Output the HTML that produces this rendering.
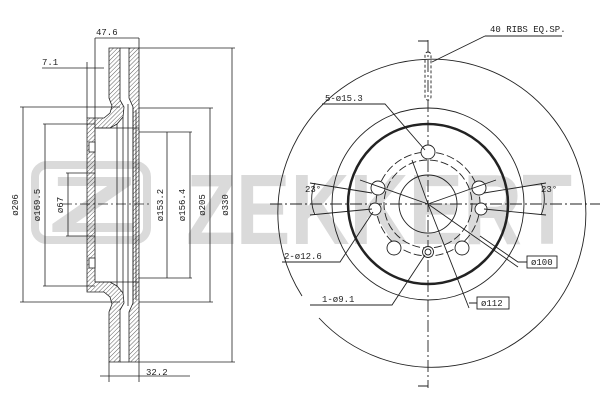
<!DOCTYPE html>
<html><head><style>body{margin:0;background:#fff}svg{display:block}text{font-family:"Liberation Mono",monospace;font-size:9px;fill:#222}</style></head><body>
<svg width="600" height="400" viewBox="0 0 600 400" xmlns="http://www.w3.org/2000/svg">
<defs><pattern id="h" width="3" height="3" patternUnits="userSpaceOnUse" patternTransform="rotate(45)"><line x1="0" y1="0" x2="0" y2="3" stroke="#333" stroke-width="0.8"/></pattern></defs>
<!-- watermark -->
<g fill="#dadada">
<rect x="35" y="165" width="112" height="75" rx="12" fill="none" stroke="#dadada" stroke-width="8"/>
<text x="48" y="232" style="font-family:'Liberation Sans',sans-serif;font-weight:bold;font-size:80px;fill:#dadada" textLength="90" lengthAdjust="spacingAndGlyphs">Z</text>
<text x="186" y="244" style="font-family:'Liberation Sans',sans-serif;font-weight:bold;font-size:100px;fill:#dadada" textLength="386" lengthAdjust="spacingAndGlyphs">ZEKKERT</text>
</g>
<g stroke="#222" stroke-width="0.8" fill="none">
<!-- left view plates -->
<path d="M109,48 L120,48 L120,100 L124,107 L123,117 L117,124 L110,128 L95,128 L95,282 L110,282 L117,286 L123,293 L124,303 L120,310 L120,362 L109,362 L109,312 L112,304 L110,297 L104,292 L87,292 L87,118 L104,118 L110,113 L112,106 L109,98 Z" fill="url(#h)"/>
<rect x="89" y="142" width="6" height="10" fill="#fff"/><rect x="89" y="258" width="6" height="10" fill="#fff"/>
<path d="M129,48 L139,48 L139,362 L129,362 L129,312 L133,303 L133,107 L129,98 Z" fill="url(#h)"/>
<path d="M120,48 L129,48 M120,362 L129,362 M117,124 V286 M123,117 V293 M128,104 V306 M133,107 V303 M136,110 V300 M95,128 H139 M95,282 H139"/>
<line x1="62" y1="204" x2="150" y2="204" stroke-dasharray="10 3 2 3"/>
<!-- dims left -->
<path d="M95,38 H139 M95,38 V125 M139,38 V48 M42,68 H104 M87,62 V118 M95,62 V128"/>
<path d="M20,107 H120 M20,302 H120 M23,107 V302 M43,124 H95 M43,286 H95 M45,124 V286 M66,173 H95 M66,236 H95 M68,173 V236"/>
<path d="M139,132 H192 M139,278 H192 M167,132 V278 M190,132 V278 M139,108 H213 M139,302 H213 M210,108 V302 M139,48 H235 M139,362 H235 M232,48 V362"/>
<path d="M100,376 H190 M109,362 V382 M139,362 V382"/>
</g>
<text x="96" y="35">47.6</text><text x="42" y="65">7.1</text><text x="146" y="375">32.2</text>
<g>
<text transform="translate(18,205) rotate(-90)" text-anchor="middle">ø206</text>
<text transform="translate(40,205) rotate(-90)" text-anchor="middle">ø169.5</text>
<text transform="translate(63,205) rotate(-90)" text-anchor="middle">ø67</text>
<text transform="translate(163,205) rotate(-90)" text-anchor="middle">ø153.2</text>
<text transform="translate(185,205) rotate(-90)" text-anchor="middle">ø156.4</text>
<text transform="translate(205,205) rotate(-90)" text-anchor="middle">ø205</text>
<text transform="translate(228,205) rotate(-90)" text-anchor="middle">ø330</text>
</g>
<!-- right view -->
<g stroke="#222" stroke-width="0.9" fill="none">
<path d="M319,318 A154,154 0 1 0 302,296"/>
<circle cx="428" cy="204" r="96"/>
<circle cx="428" cy="204" r="80" stroke-width="2.5"/>
<circle cx="428" cy="204" r="29"/>
<circle cx="428" cy="204" r="52" stroke-dasharray="8 3"/>
<circle cx="428" cy="204" r="44" stroke-dasharray="8 3"/>
<line x1="428" y1="40" x2="428" y2="388" stroke-dasharray="12 3 2 3"/>
<path d="M418,41 H428 M418,386 H428"/>
<line x1="270" y1="204" x2="600" y2="204" stroke-dasharray="12 3 2 3"/>
<rect x="425" y="52" width="6" height="48" rx="3" stroke-dasharray="3 2"/>
<g fill="#fff">
<circle cx="428" cy="152" r="7"/><circle cx="378" cy="188" r="7"/><circle cx="479" cy="188" r="7"/><circle cx="394" cy="248" r="7"/><circle cx="462" cy="248" r="7"/>
<circle cx="375" cy="209" r="6"/><circle cx="481" cy="209" r="6"/>
<circle cx="428" cy="252" r="5.5"/><circle cx="428" cy="252" r="3"/>
</g>
<path d="M428,204 L412,160 M428,204 L360,180 M428,204 L496,180 M428,204 L518,267 M428,204 L469,308"/>
<path d="M485,36 H562 M485,36 L432,62 M322,104 H385 L425,150 M282,262 H340 L373,212 M310,305 H392 L425,255 M527,262 H518 L480,236 M477,303 H469"/>
<path d="M310,183 L372,193 M310,215 L372,209 M315,183 A40,40 0 0 0 315,215 M546,183 L484,193 M546,215 L484,209 M541,183 A40,40 0 0 1 541,215"/>
<rect x="527" y="256" width="30" height="12"/><rect x="477" y="297" width="32" height="12"/>
</g>
<text x="490" y="32">40 RIBS EQ.SP.</text>
<text x="325" y="101">5-ø15.3</text>
<text x="305" y="192">23°</text><text x="541" y="192">23°</text>
<text x="284" y="259">2-ø12.6</text>
<text x="322" y="302">1-ø9.1</text>
<text x="531" y="265">ø100</text><text x="481" y="306">ø112</text>
</svg>
</body></html>
